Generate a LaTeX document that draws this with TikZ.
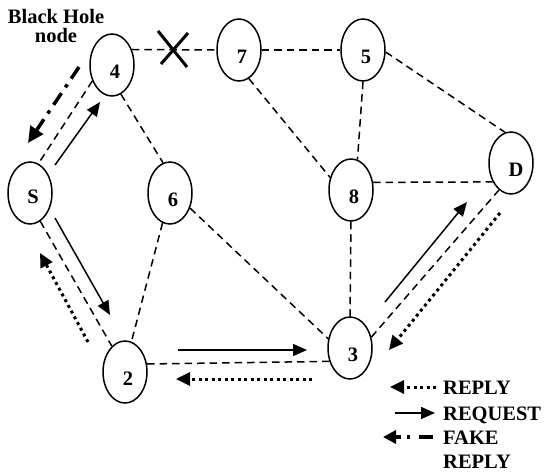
\documentclass[tikz,border=0pt]{standalone}
\usepackage{fontspec}
\setmainfont{Liberation Serif}
\usetikzlibrary{shapes.geometric,arrows.meta}
\begin{document}
\begin{tikzpicture}[x=1pt,y=-1pt,
  font=\fontsize{20.5}{19}\selectfont\bfseries,
  nd/.style={ellipse,draw,line width=1.5pt,minimum width=44pt,minimum height=62pt,inner sep=0pt},
  lb/.style={xshift=3pt,yshift=-7pt,inner sep=0pt},
  edge/.style={line width=1.5pt,dash pattern=on 7.5pt off 5pt},
  req/.style={-{Triangle[length=14pt,width=12pt]},line width=1.5pt},
  rep/.style={-{Triangle[length=14pt,width=13pt]},line width=3pt,dash pattern=on 3pt off 3.5pt},
  fake/.style={-{Triangle[length=16pt,width=15pt]},line width=3.5pt,dash pattern=on 14pt off 7pt on 3.5pt off 7pt},
  txt/.style={inner sep=0pt,anchor=base west}]
\useasboundingbox (0,0) rectangle (544,472);
% nodes
\node[nd,label={[lb,yshift=3pt]center:S}] (S) at (30,193) {};
\node[nd,label={[lb]center:4}] (n4) at (112,65) {};
\node[nd,label={[lb]center:6}] (n6) at (170,193) {};
\node[nd,label={[lb]center:2}] (n2) at (125,372) {};
\node[nd,label={[lb]center:3}] (n3) at (350,348) {};
\node[nd,label={[lb]center:7}] (n7) at (239,50) {};
\node[nd,label={[lb]center:5}] (n5) at (363,50) {};
\node[nd,label={[lb]center:8}] (n8) at (351,190) {};
\node[nd,label={[lb,xshift=2pt]center:D}] (D) at (511,163) {};
\node[align=center,inner sep=0pt] (bh) at (56,26) {Black Hole\\node};
% edges
\draw[edge] (n4.38) -- (n7.west);
\draw[edge] (n7.east) -- (n5.west);
\draw[edge] (n5.-5) -- (D.101);
\draw[edge] (n5.south) -- (n8.78);
\draw[edge] (n8.19) -- (D.226);
\draw[edge] (n7.-71) -- (n8.149);
\draw[edge] (n4.-73) -- (n6.103);
\draw[edge] (n4.219) -- (S.74);
\draw[edge] (S.-70) -- (n2.117);
\draw[edge] (n6.-104) -- (n2.78);
\draw[edge] (n6.-37) -- (n3.157);
\draw[edge] (n2.20) -- (n3.213);
\draw[edge] (n8.south) -- (n3.north);
\draw[edge] (n3.27) -- (D.246);
% black hole cross
\coordinate (xm) at (173,50);
\draw[line width=3pt] ([shift={(-15,-19)}]xm) -- ([shift={(14,17)}]xm);
\draw[line width=3pt] ([shift={(15,-17)}]xm) -- ([shift={(-12,14)}]xm);
% message arrows
\coordinate (a1) at (79,67);   \coordinate (a2) at (28,143);
\coordinate (b1) at (55,165);  \coordinate (b2) at (100,102);
\coordinate (c1) at (55,218);  \coordinate (c2) at (110,315);
\coordinate (d1) at (88,342);  \coordinate (d2) at (40,253);
\coordinate (e1) at (178,350); \coordinate (e2) at (307,350);
\coordinate (f1) at (312,379); \coordinate (f2) at (176,379);
\coordinate (g1) at (385,302); \coordinate (g2) at (467,202);
\coordinate (h1) at (500,213); \coordinate (h2) at (389,350);
\draw[fake] (a1) -- (a2);
\draw[req] (b1) -- (b2);
\draw[req] (c1) -- (c2);
\draw[rep] (d1) -- (d2);
\draw[req] (e1) -- (e2);
\draw[rep] (f1) -- (f2);
\draw[req] (g1) -- (g2);
\draw[rep] (h1) -- (h2);
% legend
\coordinate (l1a) at (436,387); \coordinate (l1b) at (390,387);
\coordinate (l2a) at (395,413); \coordinate (l2b) at (435,413);
\coordinate (l3a) at (433,437); \coordinate (l3b) at (383,437);
\draw[rep] (l1a) -- (l1b);
\draw[req] (l2a) -- (l2b);
\draw[-{Triangle[length=13pt,width=13pt]},line width=3.5pt,dash pattern=on 14pt off 9pt on 3.5pt off 6pt] (l3a) -- (l3b);
\node[txt] (t1) at (443,394) {REPLY};
\node[txt] (t2) at (443,420) {REQUEST};
\node[txt] (t3) at (443,444) {FAKE};
\node[txt] (t4) at (443,468) {REPLY};
\end{tikzpicture}
\end{document}
